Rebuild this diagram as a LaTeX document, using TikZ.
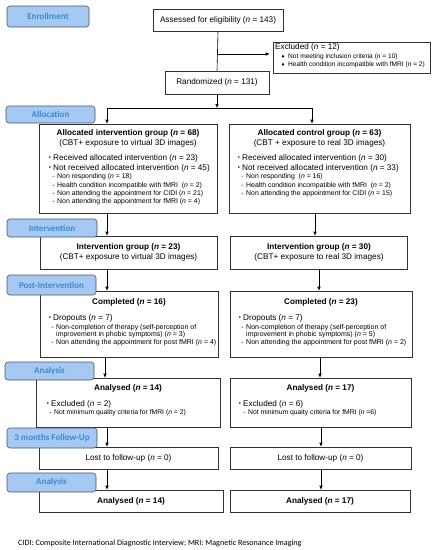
\documentclass[tikz,border=0pt]{standalone}
\usepackage{fontspec}
\setmainfont{Liberation Sans}
\newfontfamily\calib{Carlito}
\newfontfamily\djv{DejaVu Sans}
\usetikzlibrary{arrows.meta}
\definecolor{labfill}{HTML}{A5C9F3}
\definecolor{labdraw}{HTML}{4A5568}
\definecolor{labtext}{HTML}{3D89CF}
\newcommand\fm{\fontsize{8.2}{9}\selectfont}
\newcommand\fs{\fontsize{6.9}{7.5}\selectfont}
\newcommand\fse{\fontsize{6.6}{7.5}\selectfont}
\newcommand\fsb{\fontsize{7}{7.5}\selectfont}
\newcommand\fsa{\fontsize{6.8}{7.5}\selectfont}
\newcommand\nn{\textit{n}}
\newcommand\bul{\llap{\raisebox{0.3pt}{\fontsize{6}{6}\selectfont•}\hspace{2.2pt}}}
\newcommand\dsh{\llap{-\hspace{2.5pt}}}
\newcommand\dia{\llap{{\djv\fontsize{4.5}{5}\selectfont ♦}\hspace{3pt}}}
\newcommand\bx[5]{\node[box,minimum width={(#4-#2)*1pt},minimum height={(#5-#3)*1pt}] (#1) at ({(#2+#4)/2},{(#3+#5)/2}) {};}
\newcommand\lb[6]{\node[lbl,minimum width={(#4-#2)*1pt},minimum height={(#5-#3)*1pt}] (#1) at ({(#2+#4)/2},{(#3+#5)/2}) {#6};}
\begin{document}
\begin{tikzpicture}[x=1pt,y=-1pt,
  box/.style={draw=black!80,line width=0.6pt,fill=white,inner sep=0pt},
  lbl/.style={draw=labdraw,fill=labfill,rounded corners=3pt,line width=0.6pt,text=labtext,font=\calib\bfseries\fontsize{9}{10}\selectfont,inner sep=0pt},
  tc/.style={inner sep=0pt,font=\fm},
  tcb/.style={inner sep=0pt,font=\fm\bfseries},
  tl/.style={inner sep=0pt,font=\fm,anchor=west},
  ts/.style={inner sep=0pt,font=\fs,anchor=west},
  tse/.style={inner sep=0pt,font=\fse,anchor=west},
  tsb/.style={inner sep=0pt,font=\fsb,anchor=west},
  tsa/.style={inner sep=0pt,font=\fsa,anchor=west},
  arr/.style={-{Latex[length=4pt,width=3.6pt]},line width=0.6pt},
  lin/.style={line width=0.6pt}]
\fill[white] (0,0) rectangle (435,550);
\useasboundingbox (0,0) rectangle (435,550);

% boxes
\bx{assess}{153}{9}{283}{31}
\bx{excl}{273}{42}{430}{73}
\bx{rand}{165}{71}{269}{94}
\bx{allocL}{39}{124}{217}{213}
\bx{allocR}{229}{124}{410}{213}
\bx{intL}{40}{236}{217}{269}
\bx{intR}{230}{236}{407}{269}
\bx{compL}{40}{291}{218}{357}
\bx{compR}{230}{291}{412}{357}
\bx{anL}{36}{378}{220}{427}
\bx{anR}{230}{378}{411}{427}
\bx{lostL}{39}{447}{218}{469}
\bx{lostR}{230}{447}{411}{469}
\bx{finL}{39}{490}{223}{512}
\bx{finR}{230}{490}{410}{512}

% texts
\node[tc] (tAss) at (assess) {Assessed for eligibility (\nn{} = 143)};
\node[tl] (tEx) at (275,47) {Excluded (\nn{} = 12)};
\node[tse] (tEx1) at (288,57) {\dia Not meeting inclusion criteria (\nn{} = 10)};
\node[tse] (tEx2) at (288,64.5) {\dia Health condition incompatible with fMRI (\nn{} = 2)};
\node[tc] (tRand) at (rand) {Randomized (\nn{} = 131)};

\node[tcb] (aL1) at (128,133.5) {Allocated intervention group (\nn{} = 68)};
\node[tc] (aL2) at (128,143) {(CBT+ exposure to virtual 3D images)};
\node[tl] (aL3) at (53,158) {\bul Received allocated intervention (\nn{} = 23)};
\node[tl] (aL4) at (53,168) {\bul Not received allocated intervention (\nn{} = 45)};
\node[ts] (aL5) at (57,177) {\dsh Non responding (\nn{} = 18)};
\node[ts] (aL6) at (57,185.5) {\dsh Health condition incompatible with fMRI\ \ (\nn{} = 2)};
\node[ts] (aL7) at (57,193.5) {\dsh Non attending the appointment for CIDI (\nn{} = 21)};
\node[ts] (aL8) at (57,202) {\dsh Non attending the appointment for fMRI (\nn{} = 4)};

\node[tcb] (aR1) at (319.5,133.5) {Allocated control group (\nn{} = 63)};
\node[tc] (aR2) at (319.5,143) {(CBT + exposure to real 3D images)};
\node[tl] (aR3) at (242,158) {\bul Received allocated intervention (\nn{} = 30)};
\node[tl] (aR4) at (242,168) {\bul Not received allocated intervention (\nn{} = 33)};
\node[ts] (aR5) at (246,177) {\dsh Non responding\ \ (\nn{} = 16)};
\node[ts] (aR6) at (246,185.5) {\dsh Health condition incompatible with fMRI\ \ (\nn{} = 2)};
\node[ts] (aR7) at (246,194) {\dsh Non attending the appointment for CIDI (\nn{} = 15)};

\node[tcb] (iL1) at (128.5,247) {Intervention group (\nn{} = 23)};
\node[tc] (iL2) at (128.5,257) {(CBT+ exposure to virtual 3D images)};
\node[tcb] (iR1) at (319,247) {Intervention group (\nn{} = 30)};
\node[tc] (iR2) at (319,257) {(CBT+ exposure to real 3D images)};

\node[tcb] (cL1) at (129,302) {Completed (\nn{} = 16)};
\node[tl] (cL2) at (53,318) {\bul Dropouts (\nn{} = 7)};
\node[tsb] (cL3) at (56,327.5) {\dsh Non-completion of therapy (self-perception of};
\node[tsb] (cL4) at (56,335) {improvement in phobic symptoms) (\nn{} = 3)};
\node[tsb] (cL5) at (56,343) {\dsh Non attending the appointment for post fMRI (\nn{} = 4)};

\node[tcb] (cR1) at (321,302) {Completed (\nn{} = 23)};
\node[tl] (cR2) at (243,318) {\bul Dropouts (\nn{} = 7)};
\node[tsb] (cR3) at (246,327.5) {\dsh Non-completion of therapy (self-perception of};
\node[tsb] (cR4) at (246,335) {improvement in phobic symptoms) (\nn{} = 5)};
\node[tsb] (cR5) at (246,343) {\dsh Non attending the appointment for post fMRI (\nn{} = 2)};

\node[tcb] (nL1) at (128,388) {Analysed (\nn{} = 14)};
\node[tl] (nL2) at (51,404) {\bul Excluded (\nn{} = 2)};
\node[tsa] (nL3) at (54,412.5) {\dsh Not minimum quality criteria for fMRI (\nn{} = 2)};
\node[tcb] (nR1) at (320.5,388) {Analysed (\nn{} = 17)};
\node[tl] (nR2) at (243,404) {\bul Excluded (\nn{} = 6)};
\node[tsa] (nR3) at (248,412.5) {\dsh Not minimum quaity criteria for fMRI (\nn{} =6)};

\node[tc] (lL) at (lostL) {Lost to follow-up (\nn{} = 0)};
\node[tc] (lR) at (lostR) {Lost to follow-up (\nn{} = 0)};
\node[tcb] (fL) at (finL) {Analysed (\nn{} = 14)};
\node[tcb] (fR) at (finR) {Analysed (\nn{} = 17)};

\node[anchor=west,inner sep=0pt,font=\calib\fontsize{8.1}{9}\selectfont] (foot) at (18,543) {CIDI: Composite International Diagnostic Interview; MRI: Magnetic Resonance Imaging};

% connectors
\coordinate (ex) at (217,54);
\coordinate (split) at (217,108);
\coordinate (splitL) at (107,108);
\coordinate (splitR) at (312,108);
\coordinate (cL) at (107,0);
\coordinate (cLb) at (105,0);
\coordinate (cR1) at (315,0);
\coordinate (cR2) at (319,0);
\coordinate (cR3) at (320,0);
\coordinate (cR4) at (321,0);
\draw[lin] (assess.south) -- (rand.north);
\draw[arr,shorten >=3pt] (ex) -- (ex -| excl.west);
\draw[arr] (rand.south) -- (split);
\draw[lin] (splitL) -- (splitR);
\draw[arr] (splitL) -- (allocL.north -| splitL);
\draw[arr] (splitR) -- (allocR.north -| splitR);
\draw[arr] (allocL.south -| cL) -- (intL.north -| cL);
\draw[arr] (allocR.south -| cR1) -- (intR.north -| cR1);
\draw[arr] (intL.south -| cL) -- (compL.north -| cL);
\draw[arr] (intR.south -| cR2) -- (compR.north -| cR2);
\draw[arr] (compL.south -| cLb) -- (anL.north -| cLb);
\draw[arr] (compR.south -| cR3) -- (anR.north -| cR3);
\draw[arr] (anL.south -| cL) -- (lostL.north -| cL);
\draw[arr] (anR.south -| cR4) -- (lostR.north -| cR4);
\draw[arr] (lostL.south -| cL) -- (finL.north -| cL);
\draw[arr] (lostR.south -| cR4) -- (finR.north -| cR4);

% stage labels
\lb{lEnr}{7}{6}{89}{27}{Enrollment}
\lb{lAll}{6}{106}{95}{123}{Allocation}
\lb{lInt}{7}{219}{97}{237}{Intervention}
\lb{lPost}{7}{275}{96}{295}{Post-Intervention}
\lb{lAn}{5}{362}{94}{380}{Analysis}
\lb{lFol}{7}{428}{97}{448}{3 months Follow-Up}
\lb{lAn2}{7}{473}{96}{492}{Analysis}
\end{tikzpicture}
\end{document}
